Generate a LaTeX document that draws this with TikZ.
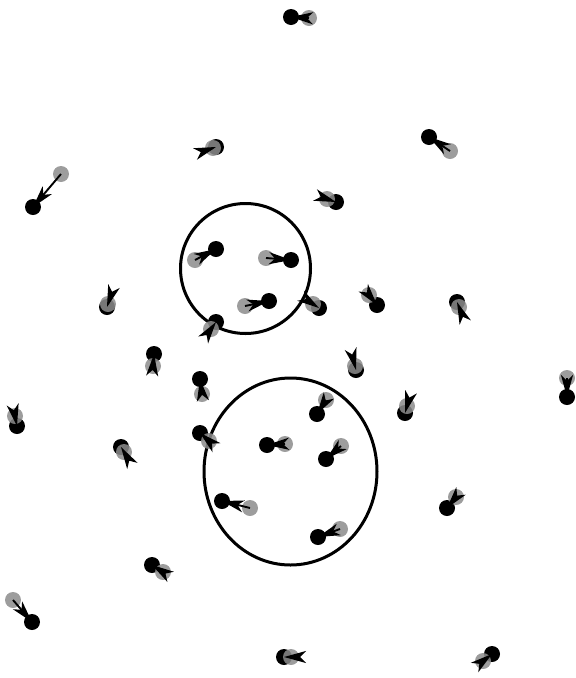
\documentclass[tikz,border=0pt]{standalone}
\usetikzlibrary{arrows.meta}
\begin{document}
\begin{tikzpicture}[x=1pt,y=-1pt,
    nero/.style={fill=black},
    grigio/.style={fill=black!45,opacity=0.85},
    freccia/.style={line width=1.9pt,-{Stealth[length=22pt,width=12pt,inset=6pt]}}]
    % parametri
    \def\rag{8pt}

    \useasboundingbox (0,0) rectangle (576,678);

    % cerchi
    \draw[line width=3pt] (245.5,268.5) circle[radius=65pt];
    \draw[line width=3pt] (290.5,471.5) ellipse[x radius=86.5pt, y radius=93.5pt];

    % particelle: posizione grigia -> posizione nera
    \foreach \gx/\gy/\bx/\by [count=\i] in {
        61/174/33/207, 309/18/291/17, 213/148/216/147, 327/199/336/202,
        450/151/429/137, 108/304/107/307, 153/366/154/354, 15/416/17/426,
        124/452/121/447, 313/304/319/308, 369/295/377/305, 355/366/356/370,
        202/394/200/379, 209/441/200/433, 459/307/457/302, 567/378/567/397,
        407/406/405/413, 456/497/447/508, 483/661/492/654, 163/572/152/565,
        13/600/32/622, 291/657/284/657,
        195/260/216/249, 266/258/291/260, 245/306/269/301, 211/329/216/322,
        285/444/267/445, 326/400/317/414, 341/446/326/459, 250/508/222/501,
        340/529/318/537}{
        \coordinate (g\i) at (\gx,\gy);
        \coordinate (b\i) at (\bx,\by);
        \fill[nero] (b\i) circle[radius=\rag];
        \fill[grigio] (g\i) circle[radius=\rag];
        \draw[freccia] (g\i) -- (b\i);
    }
\end{tikzpicture}
\end{document}
